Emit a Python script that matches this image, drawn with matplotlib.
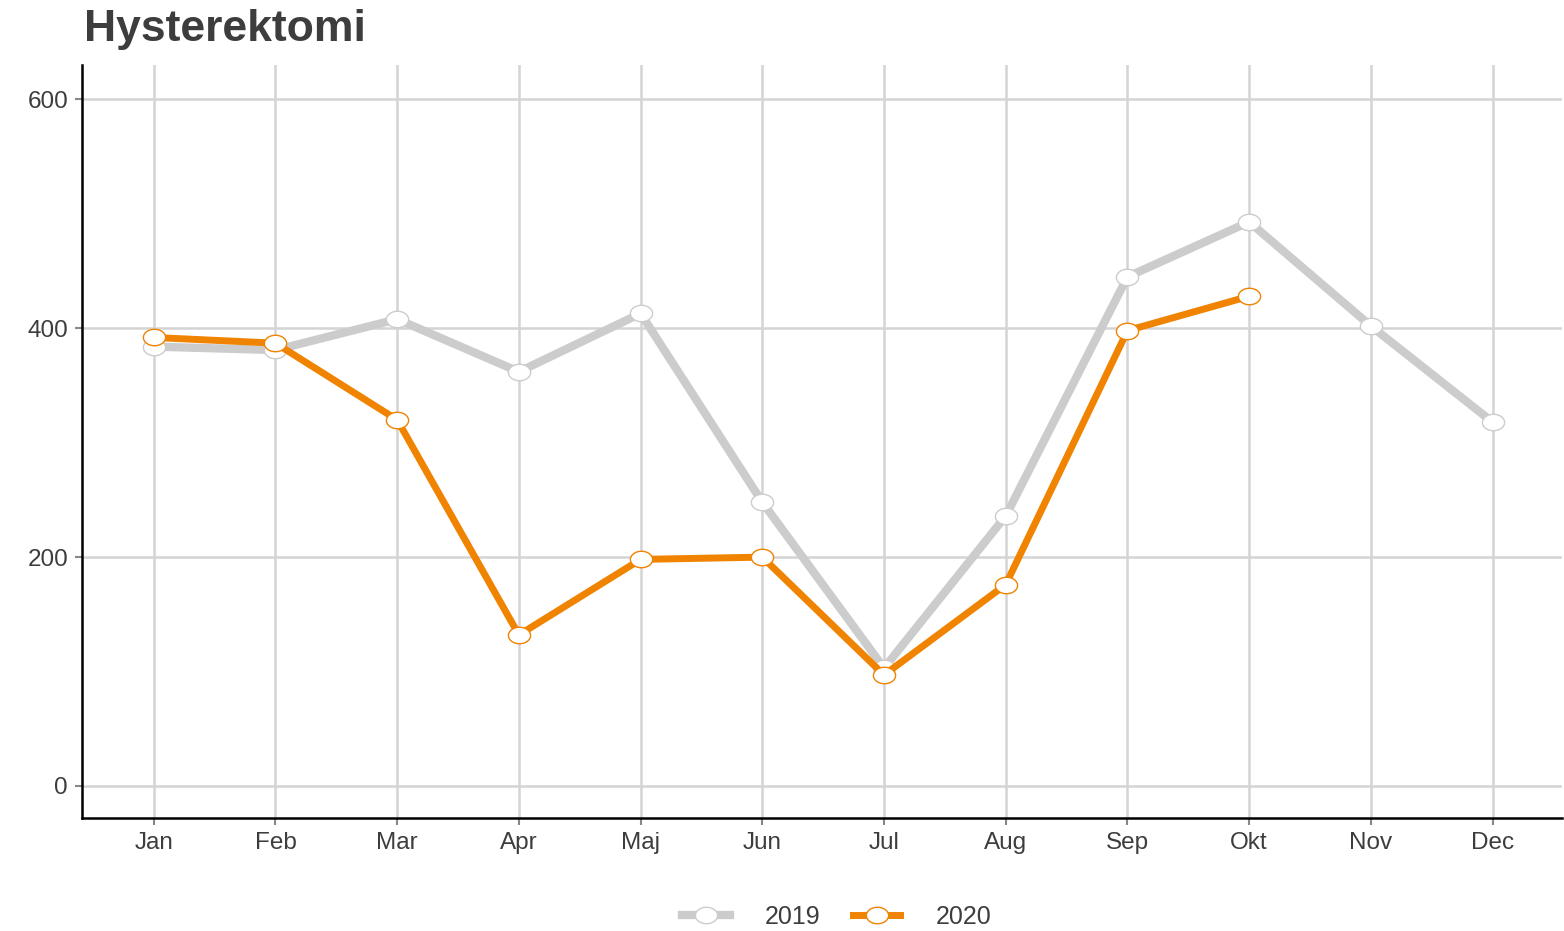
import numpy as np
import matplotlib
matplotlib.use("Agg")
import matplotlib.pyplot as plt
from matplotlib.path import Path

months = ["Jan", "Feb", "Mar", "Apr", "Maj", "Jun", "Jul", "Aug", "Sep", "Okt", "Nov", "Dec"]
values_2019 = [384, 381, 408, 362, 413, 248, 103, 236, 445, 493, 402, 318]
values_2020 = [392, 387, 320, 132, 198, 200, 97, 176, 398, 428]

grey = "#cccccc"
orange = "#f08300"
text_col = "#3d3d3d"

plt.rcParams["font.family"] = ["Liberation Sans", "DejaVu Sans"]

# wide ellipse marker (the original is horizontally stretched)
t = np.linspace(0, 2 * np.pi, 60)
ellipse = Path(np.column_stack([1.35 * np.cos(t), np.sin(t)]), closed=True)

fig = plt.figure(figsize=(15.64, 9.31), dpi=100)
ax = fig.add_axes([0.0524, 0.1214, 0.9463, 0.8086])

x19 = np.arange(len(values_2019))
x20 = np.arange(len(values_2020))
ax.plot(x19, values_2019, color=grey, lw=6, marker=ellipse, ms=16,
        mfc="white", mec=grey, mew=1, label="2019", zorder=3)
ax.plot(x20, values_2020, color=orange, lw=5, marker=ellipse, ms=16,
        mfc="white", mec=orange, mew=1, label="2020", zorder=4)

ax.set_xlim(-0.59, 11.57)
ax.set_ylim(-28, 630)
ax.set_xticks(range(12))
ax.set_xticklabels(months)
ax.set_yticks([0, 200, 400, 600])
ax.grid(True, color="#d4d4d4", lw=1.8)
ax.set_axisbelow(True)
for side in ["top", "right"]:
    ax.spines[side].set_visible(False)
for side in ["left", "bottom"]:
    ax.spines[side].set_linewidth(1.8)
    ax.spines[side].set_color("black")
ax.tick_params(labelsize=17.5, colors=text_col, length=5, width=1.5, pad=5)
ax.tick_params(axis="both", color="#888888")

fig.text(0.054, 0.968, "Hysterektomi", fontsize=32, fontweight="bold",
         color=text_col, va="center", ha="left")

fig.legend(loc="center", bbox_to_anchor=(0.535, 0.015), ncol=2, frameon=False,
           fontsize=18, handlelength=1.9, columnspacing=1.3,
           labelcolor=text_col, handletextpad=1.4)

fig.savefig("out.png", dpi=100)
